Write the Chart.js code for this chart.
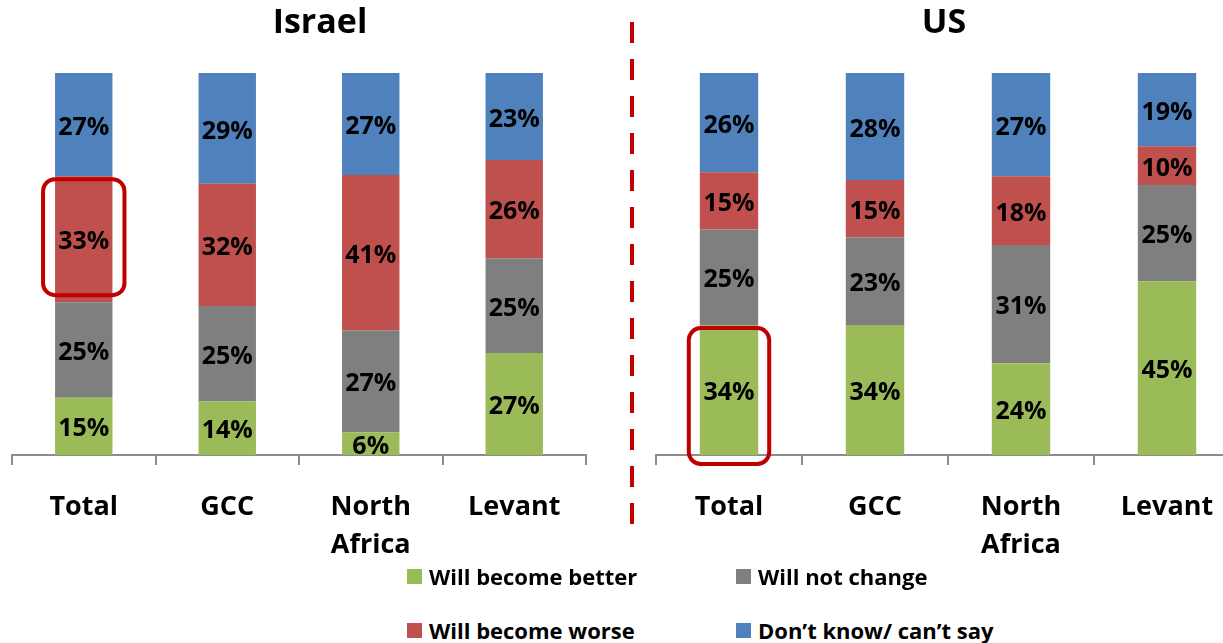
<!DOCTYPE html>
<html>
<head>
<meta charset="utf-8">
<script src="https://cdn.jsdelivr.net/npm/chart.js@4.4.1/dist/chart.umd.min.js"></script>
<style>
  html, body { margin: 0; padding: 0; background: #fff; }
  #wrap { position: relative; width: 1223px; height: 643px; overflow: hidden; font-family: "Open Sans", sans-serif; }
  canvas { position: absolute; top: 0; }
  .title { position: absolute; font-weight: bold; font-size: 34px; line-height: 1; color: #000; text-align: center; }
  .divider { position: absolute; left: 630px; top: 22px; width: 4px; height: 506px;
    background: repeating-linear-gradient(to bottom, #c00000 0px, #c00000 21px, transparent 21px, transparent 37px); }
  .leg { position: absolute; display: flex; align-items: center; font-weight: bold; font-size: 22px; color: #000; white-space: nowrap; }
  .leg span.sw { display: inline-block; width: 15px; height: 15px; margin-right: 7px; }
</style>
</head>
<body>
<div id="wrap">
  <canvas id="israel" width="620" height="600" style="left:0px"></canvas>
  <canvas id="us" width="620" height="600" style="left:640px"></canvas>
  <div class="title" style="left:220px; width:200px; top:3px;">Israel</div>
  <div class="title" style="left:844px; width:200px; top:3px;">US</div>
  <div class="divider"></div>
  <div id="legend"></div>
</div>
<script>
// ---- Data ----
const categories = ['Total', 'GCC', 'North Africa', 'Levant'];
const seriesNames = ['Will become better', 'Will not change', 'Will become worse', 'Don\u2019t know/ can\u2019t say'];
const seriesColors = ['#9BBB59', '#7F7F7F', '#C0504D', '#4F81BD'];

const israelBetter   = [15, 14, 6, 27];
const israelNoChange = [25, 25, 27, 25];
const israelWorse    = [33, 32, 41, 26];
const israelDontKnow = [27, 29, 27, 23];

const usBetter   = [34, 34, 24, 45];
const usNoChange = [25, 23, 31, 25];
const usWorse    = [15, 15, 18, 10];
const usDontKnow = [26, 28, 27, 19];

const FONT = '"Open Sans", sans-serif';

// 100% stacked: normalise each category to its total, keep raw values for labels
function buildDatasets(seriesList) {
  const totals = categories.map((_, i) => seriesList.reduce((s, arr) => s + arr[i], 0));
  return seriesList.map((arr, k) => ({
    label: seriesNames[k],
    data: arr.map((v, i) => v / totals[i] * 100),
    raw: arr,
    backgroundColor: seriesColors[k],
    borderWidth: 0,
    categoryPercentage: 1.0,
    barPercentage: 0.4
  }));
}

const labelPlugin = {
  id: 'segLabels',
  afterDatasetsDraw(chart) {
    const ctx = chart.ctx;
    ctx.save();
    ctx.font = 'bold 25px ' + FONT;
    ctx.fillStyle = '#000';
    ctx.textAlign = 'center';
    ctx.textBaseline = 'middle';
    chart.data.datasets.forEach((ds, di) => {
      const meta = chart.getDatasetMeta(di);
      meta.data.forEach((bar, i) => {
        const yMid = (bar.y + bar.base) / 2;
        ctx.fillText(ds.raw[i] + '%', bar.x, yMid + 3);
      });
    });
    ctx.restore();
  }
};

const highlightPlugin = {
  id: 'highlight',
  afterDraw(chart, args, opts) {
    if (!opts || !opts.boxes) return;
    const ctx = chart.ctx;
    ctx.save();
    ctx.strokeStyle = opts.color;
    ctx.lineWidth = opts.width;
    opts.boxes.forEach(b => {
      const bar = chart.getDatasetMeta(b.datasetIndex).data[b.index];
      const half = bar.width / 2;
      const top = Math.min(bar.y, bar.base);
      const bottom = Math.max(bar.y, bar.base);
      const x0 = bar.x - half - b.padX, x1 = bar.x + half + b.padX;
      const y0 = top + b.padTop, y1 = bottom + b.padBottom;
      ctx.beginPath();
      ctx.roundRect(x0, y0, x1 - x0, y1 - y0, opts.radius);
      ctx.stroke();
    });
    ctx.restore();
  }
};

function makeChart(id, seriesList, padLeft, padRight, boxes) {
  return new Chart(document.getElementById(id), {
    type: 'bar',
    data: {
      labels: categories.map(c => c.split(' ')),
      datasets: buildDatasets(seriesList)
    },
    options: {
      responsive: false,
      animation: false,
      events: [],
      layout: { padding: { top: 73, left: padLeft, right: padRight, bottom: 0 } },
      plugins: {
        legend: { display: false },
        tooltip: { enabled: false },
        highlight: { color: '#C00000', width: 4, radius: 12, boxes: boxes }
      },
      scales: {
        x: {
          stacked: true,
          afterFit: (scale) => { scale.height = 600 - 455; },
          grid: { display: true, drawOnChartArea: false, drawTicks: true, tickLength: 10, color: '#8C8C8C', lineWidth: 2, offset: true },
          border: { display: true, color: '#8C8C8C', width: 2 },
          ticks: { color: '#000', font: { family: FONT, size: 27, weight: 'bold', lineHeight: 1.41 }, padding: 23, maxRotation: 0, autoSkip: false }
        },
        y: { stacked: true, display: false, min: 0, max: 100 }
      }
    },
    plugins: [labelPlugin, highlightPlugin]
  });
}

makeChart('israel', [israelBetter, israelNoChange, israelWorse, israelDontKnow], 12, 34,
  [{ datasetIndex: 2, index: 0, padX: 12, padTop: 3, padBottom: -7 }]);
makeChart('us', [usBetter, usNoChange, usWorse, usDontKnow], 16, 20,
  [{ datasetIndex: 0, index: 0, padX: 11, padTop: 3, padBottom: 9 }]);

// ---- Legend (HTML, 2 x 2) ----
const legendPos = [
  { left: 407, top: 576 }, { left: 736, top: 576 },
  { left: 407, top: 630 }, { left: 736, top: 630 }
];
const legend = document.getElementById('legend');
seriesNames.forEach((name, k) => {
  const d = document.createElement('div');
  d.className = 'leg';
  d.style.left = legendPos[k].left + 'px';
  d.style.top = (legendPos[k].top - 16) + 'px';
  d.style.height = '32px';
  const sw = document.createElement('span');
  sw.className = 'sw';
  sw.style.background = seriesColors[k];
  d.appendChild(sw);
  d.appendChild(document.createTextNode(name));
  legend.appendChild(d);
});
</script>
</body>
</html>
